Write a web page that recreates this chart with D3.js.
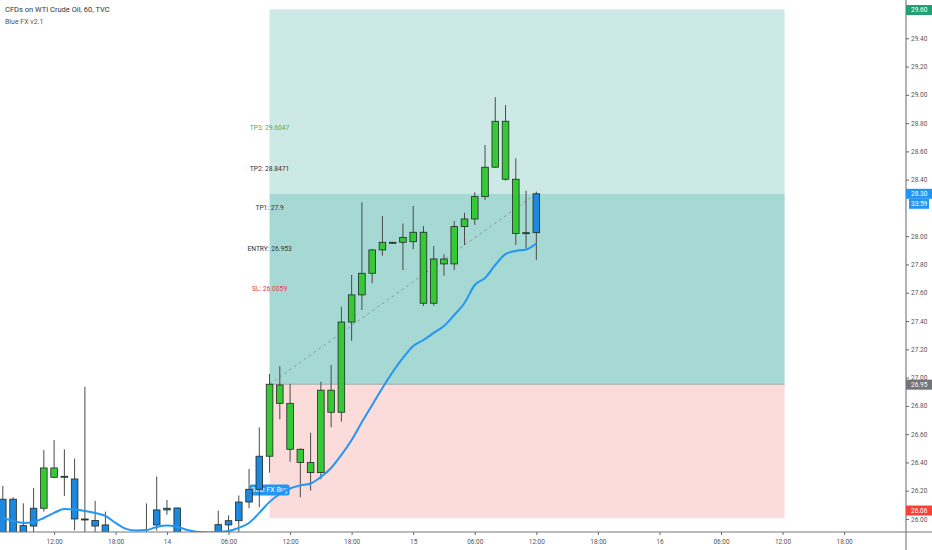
<!DOCTYPE html>
<html>
<head>
<meta charset="utf-8">
<script src="https://cdn.jsdelivr.net/npm/d3@7/dist/d3.min.js"></script>
<style>
  body { margin: 0; background: #fff; }
  text { font-family: Roboto, "Noto Sans", sans-serif; }
</style>
</head>
<body>
<svg id="chart" width="932" height="550"></svg>
<script>
// hourly candles, one row per bar (index = position on the time axis)
var opens  = [26.14, 25.87, 25.953, 25.95, 26.076, 26.361, 26.295, 26.283, 26.0, 25.99, 25.958, 25.86, 25.80, 25.78, 25.82, 25.958, 26.064, 26.078, 25.85, 25.80, 25.79, 25.84, 25.958, 25.988, 26.12, 26.21, 26.444, 26.948, 26.818, 26.493, 26.40, 26.328, 26.911, 26.755, 27.393, 27.585, 27.738, 27.903, 27.957, 27.957, 27.961, 28.028, 27.526, 27.839, 27.804, 28.068, 28.122, 28.28, 28.488, 28.813, 28.403, 28.02, 28.025];
var highs  = [26.234, 26.154, 26.111, 26.22, 26.488, 26.559, 26.493, 26.427, 26.936, 26.128, 26.052, 25.90, 25.88, 25.86, 26.11, 26.30, 26.135, 26.08, 25.89, 25.87, 25.88, 26.059, 26.025, 26.166, 26.354, 26.648, 27.026, 27.082, 26.955, 26.50, 26.61, 26.971, 27.089, 27.502, 27.726, 28.24, 27.91, 28.143, 27.96, 28.09, 28.214, 28.072, 27.931, 27.872, 28.108, 28.166, 28.311, 28.645, 28.983, 28.928, 28.551, 28.322, 28.315];
var lows   = [25.80, 25.80, 25.84, 25.88, 26.052, 26.29, 26.163, 25.92, 25.88, 25.88, 25.80, 25.76, 25.72, 25.70, 25.76, 25.918, 26.03, 25.80, 25.75, 25.72, 25.73, 25.80, 25.88, 25.88, 26.076, 26.083, 26.328, 26.705, 26.405, 26.154, 26.20, 26.281, 26.649, 26.688, 27.26, 27.478, 27.667, 27.862, 27.948, 27.761, 27.907, 27.507, 27.509, 27.721, 27.761, 27.938, 28.08, 28.256, 28.485, 28.393, 27.938, 27.915, 27.832];
var closes = [25.87, 26.14, 25.88, 26.076, 26.361, 26.295, 26.302, 26.0, 25.995, 25.95, 25.86, 25.80, 25.78, 25.82, 25.88, 26.064, 26.076, 25.85, 25.80, 25.79, 25.84, 25.96, 25.988, 26.12, 26.21, 26.444, 26.953, 26.818, 26.493, 26.40, 26.328, 26.911, 26.755, 27.393, 27.585, 27.738, 27.903, 27.957, 27.952, 27.992, 28.028, 27.526, 27.839, 27.804, 28.068, 28.122, 28.28, 28.488, 28.813, 28.403, 28.02, 28.025, 28.30];
// bar colour from the Blue FX indicator: g = green, b = blue
var barColors = "bbbbgggbbbbbbbbbbbbbbbbbbbggggggggggggggggggggggggggb".split("");

// Blue FX moving average, one value per bar
var emaValues = [26.007, 25.986, 25.972, 25.979, 26.007, 26.043, 26.071, 26.067, 26.057, 26.043, 26.022, 25.972, 25.930, 25.919, 25.922, 25.944, 25.954, 25.944, 25.922, 25.908, 25.905, 25.908, 25.915, 25.937, 25.972, 26.043, 26.121, 26.177, 26.216, 26.237, 26.251, 26.297, 26.361, 26.453, 26.559, 26.686, 26.807, 26.927, 27.040, 27.139, 27.224, 27.266, 27.316, 27.365, 27.443, 27.528, 27.655, 27.705, 27.797, 27.874, 27.896, 27.906, 27.949];

// long position tool
var entryPrice = 26.953;
var stopPrice = 26.0059;
var targetPrice = 29.6047;
var lastPrice = 28.30;
var positionBars = [26, 76.2];
var levelTexts = ["TP3: 29.6047", "TP2: 28.8471", "TP1: 27.9", "ENTRY: 26.953", "SL: 26.0059"];
var levelTextPrices = [28.766, 28.476, 28.200, 27.910, 27.627];
var levelTextColors = ["#4caf50", "#333", "#333", "#333", "#e53950"];

// axis ticks (28.20 sits under the countdown badge, so it is not shown)
var priceTicks = [26.00, 26.20, 26.40, 26.60, 26.80, 27.00, 27.20, 27.40, 27.60, 27.80, 28.00, 28.40, 28.60, 28.80, 29.00, 29.20, 29.40, 29.60];
var timeTickBars = [5, 11, 16, 22, 28, 34, 40, 46, 52, 58, 64, 70, 76, 82];
var timeTickLabels = ["12:00", "18:00", "14", "06:00", "12:00", "18:00", "15", "06:00", "12:00", "18:00", "16", "06:00", "12:00", "18:00"];

// price badges on the right scale
var badgeValues = [29.60, 28.30, 26.95, 26.06];
var badgeColors = ["#23a071", "#2196f3", "#737478", "#f44336"];

var svg = d3.select("#chart");
var plotRight = 906, plotBottom = 532;

var x = d3.scaleLinear().domain([0, 88]).range([2.8, 2.8 + 88 * 10.26]);
var y = d3.scaleLinear().domain([25.908, 29.6707]).range([plotBottom, 0]);

svg.append("defs").append("clipPath").attr("id", "plotClip")
  .append("rect").attr("x", 0).attr("y", 0).attr("width", plotRight).attr("height", plotBottom);

var plot = svg.append("g").attr("clip-path", "url(#plotClip)");

// position boxes
var bx0 = x(positionBars[0]), bx1 = x(positionBars[1]);
plot.append("rect").attr("x", bx0).attr("width", bx1 - bx0)
  .attr("y", y(targetPrice)).attr("height", y(lastPrice) - y(targetPrice))
  .attr("fill", "#cde9e6");
plot.append("rect").attr("x", bx0).attr("width", bx1 - bx0)
  .attr("y", y(lastPrice)).attr("height", y(entryPrice) - y(lastPrice))
  .attr("fill", "#a6d9d4");
plot.append("rect").attr("x", bx0).attr("width", bx1 - bx0)
  .attr("y", y(entryPrice)).attr("height", y(stopPrice) - y(entryPrice))
  .attr("fill", "#fcdbdb");
plot.append("line").attr("x1", bx0).attr("x2", bx1)
  .attr("y1", y(entryPrice)).attr("y2", y(entryPrice))
  .attr("stroke", "#8f9a99").attr("stroke-width", 0.8);

// dashed line from entry to current price
plot.append("line")
  .attr("x1", x(positionBars[0])).attr("y1", y(entryPrice))
  .attr("x2", x(closes.length - 1)).attr("y2", y(lastPrice))
  .attr("stroke", "#8a8a8a").attr("stroke-width", 0.8).attr("stroke-dasharray", "3,3");

// level texts
levelTexts.forEach(function(t, i) {
  plot.append("text")
    .attr("x", x(positionBars[0])).attr("y", y(levelTextPrices[i]))
    .attr("dy", "0.35em").attr("text-anchor", "middle")
    .attr("font-size", "6.7px").attr("fill", levelTextColors[i])
    .text(t);
});

// Blue FX Buy label
var buyG = plot.append("g").attr("transform", "translate(" + x(26) + "," + y(26.205) + ")");
buyG.append("rect").attr("x", -20).attr("y", -5.5).attr("width", 40).attr("height", 11)
  .attr("rx", 2).attr("fill", "#2196f3");
buyG.append("text").attr("text-anchor", "middle").attr("dy", "0.35em")
  .attr("font-size", "7px").attr("fill", "#fff").text("Blue FX Buy");

// candles
var candles = plot.selectAll("g.candle").data(opens).enter().append("g").attr("class", "candle");
candles.append("line")
  .attr("x1", function(d, i) { return x(i); }).attr("x2", function(d, i) { return x(i); })
  .attr("y1", function(d, i) { return y(highs[i]); }).attr("y2", function(d, i) { return y(lows[i]); })
  .attr("stroke", "#4a4a4a").attr("stroke-width", 1);
candles.append("rect")
  .attr("x", function(d, i) { return x(i) - 3.3; })
  .attr("width", 6.6)
  .attr("y", function(d, i) { return y(Math.max(opens[i], closes[i])); })
  .attr("height", function(d, i) { return Math.max(1, Math.abs(y(opens[i]) - y(closes[i]))); })
  .attr("fill", function(d, i) { return barColors[i] == "g" ? "#36c936" : "#1d88dd"; })
  .attr("stroke", "#1f2a22").attr("stroke-width", 0.8);

// moving average line
var emaLine = d3.line()
  .x(function(d, i) { return x(i); })
  .y(function(d) { return y(d); })
  .curve(d3.curveMonotoneX);
plot.append("path").datum(emaValues)
  .attr("d", emaLine).attr("fill", "none")
  .attr("stroke", "#2196f3").attr("stroke-width", 2);

// right price axis
var yAxis = d3.axisRight(y).tickValues(priceTicks).tickFormat(d3.format(".2f")).tickSize(3);
var yG = svg.append("g").attr("transform", "translate(" + plotRight + ",0)").call(yAxis);
yG.select(".domain").remove();
yG.selectAll(".tick line").attr("stroke", "#666");
yG.selectAll(".tick text").attr("font-size", "6.5px").attr("fill", "#555").attr("x", 5);

// bottom time axis
var xAxis = d3.axisBottom(x).tickValues(timeTickBars)
  .tickFormat(function(d, i) { return timeTickLabels[i]; }).tickSize(3);
var xG = svg.append("g").attr("transform", "translate(0," + plotBottom + ")").call(xAxis);
xG.select(".domain").remove();
xG.selectAll(".tick line").attr("stroke", "#666");
xG.selectAll(".tick text").attr("font-size", "6.5px").attr("fill", "#555").attr("dy", "0.9em");

svg.append("line").attr("x1", 0).attr("x2", 932).attr("y1", plotBottom).attr("y2", plotBottom)
  .attr("stroke", "#777").attr("stroke-width", 1);
svg.append("line").attr("x1", plotRight).attr("x2", plotRight).attr("y1", 0).attr("y2", 550)
  .attr("stroke", "#666").attr("stroke-width", 1);

// price badges
badgeValues.forEach(function(v, i) {
  var g = svg.append("g").attr("transform", "translate(" + plotRight + "," + y(v) + ")");
  g.append("rect").attr("x", 0).attr("y", -5).attr("width", 26).attr("height", 10).attr("fill", badgeColors[i]);
  g.append("text").attr("x", 5).attr("dy", "0.35em").attr("font-size", "6.5px").attr("fill", "#fff")
    .text(d3.format(".2f")(v));
});
// countdown under the last price
var cd = svg.append("g").attr("transform", "translate(" + (plotRight + 3) + "," + (y(lastPrice) + 10) + ")");
cd.append("rect").attr("x", 0).attr("y", -5).attr("width", 20).attr("height", 10).attr("fill", "#2196f3");
cd.append("text").attr("x", 2).attr("dy", "0.35em").attr("font-size", "6.5px").attr("fill", "#fff").text("33:59");

// header
svg.append("text").attr("x", 5).attr("y", 12).attr("font-size", "7.5px").attr("fill", "#333")
  .text("CFDs on WTI Crude Oil, 60, TVC");
svg.append("text").attr("x", 5).attr("y", 24).attr("font-size", "7px").attr("fill", "#555")
  .text("Blue FX v2.1");
</script>
</body>
</html>
